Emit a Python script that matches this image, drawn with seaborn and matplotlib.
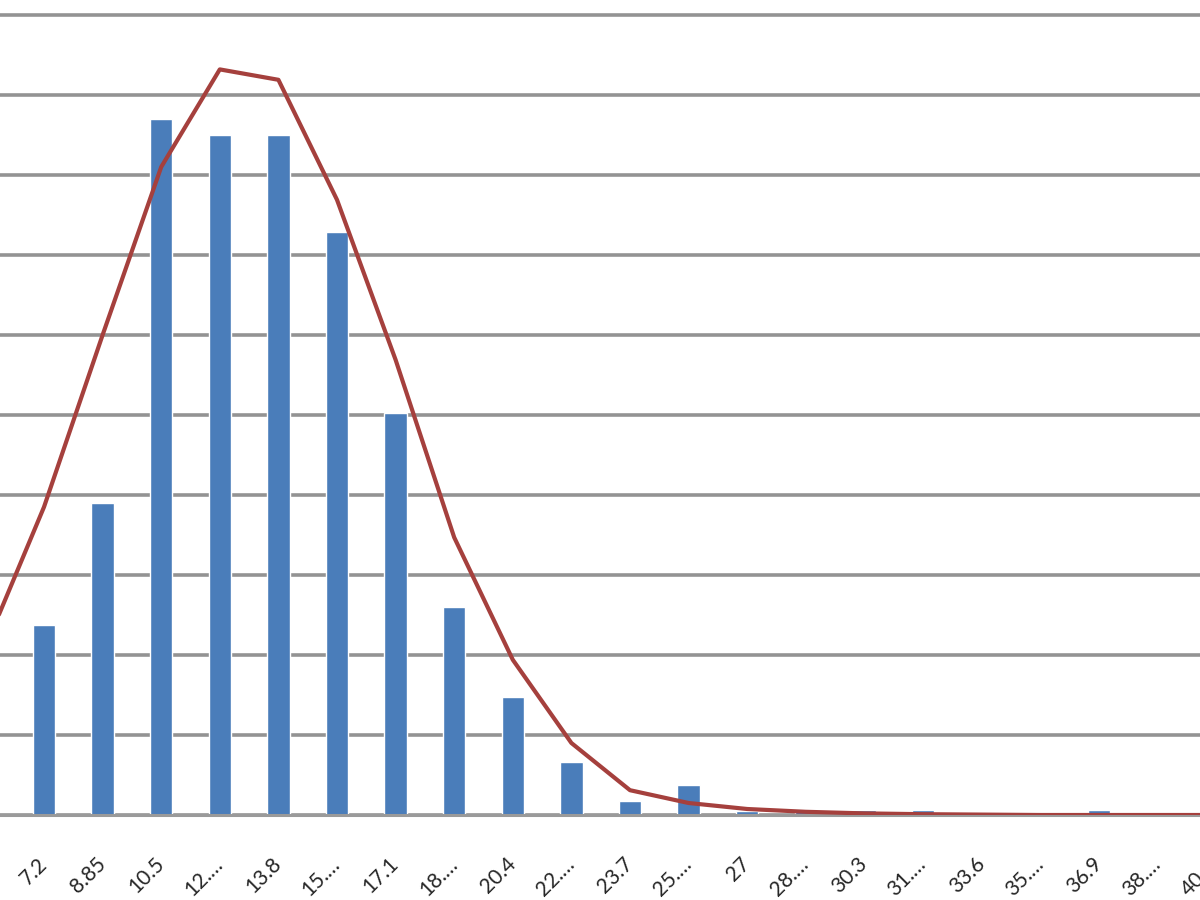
import numpy as np
import matplotlib
matplotlib.use('Agg')
import matplotlib.pyplot as plt
import seaborn as sns

# histogram bins (first one sits just off the left edge of the picture)
categories = ['5.55', '7.2', '8.85', '10.5', '12.…', '13.8', '15.…', '17.1', '18.…', '20.4',
              '22.…', '23.7', '25.…', '27', '28.…', '30.3', '31.…', '33.6', '35.…', '36.9',
              '38.…', '40.…']
# observed counts (bars)
counts = [9, 23.75, 39, 87, 85, 85, 72.9, 50.25, 26, 14.75,
          6.6, 1.75, 3.75, 0.5, 0.5, 0.6, 0.6, 0, 0, 0.6,
          0, 0]
# fitted normal curve
fitted = [21, 38.5, 60, 81, 93.2, 91.9, 76.9, 56.9, 34.7, 19.4,
          9, 3.1, 1.5, 0.75, 0.4, 0.2, 0.1, 0.05, 0, 0,
          0, 0]
y_ticks = list(range(0, 101, 10))

sns.set_style('white')
plt.rcParams['font.family'] = ['Lato', 'DejaVu Sans']

fig = plt.figure(figsize=(12, 9), dpi=100)
# the original screenshot is cropped, so the axes runs past the figure edges
ax = fig.add_axes([-43.9 / 1200, 85 / 900, 1289.2 / 1200, 800 / 900])

sns.barplot(x=categories, y=counts, color='#4A7DBA', width=0.38,
            saturation=1, ax=ax, zorder=2)
sns.pointplot(x=categories, y=fitted, color='#A5403D', markers='',
              linewidth=3, ax=ax, zorder=3)

ax.set_xlim(-0.5, len(categories) - 0.5)
ax.set_ylim(0, 100)
ax.set_yticks(y_ticks)
ax.set_yticklabels([])
ax.yaxis.grid(True, color='#939393', linewidth=2.6)
ax.set_axisbelow(True)
for gl in ax.get_ygridlines():
    gl.set_clip_on(False)

for s in ['top', 'right', 'left']:
    ax.spines[s].set_visible(False)
ax.spines['bottom'].set_color('#9a9a9a')
ax.spines['bottom'].set_linewidth(2.2)

ax.set_xticks(np.arange(-0.5, len(categories), 1), minor=True)
ax.tick_params(axis='x', which='minor', length=9, width=1.4, color='#8a8a8a', direction='out')
ax.tick_params(axis='x', which='major', length=0, pad=33, labelsize=15, labelcolor='#262626')
ax.tick_params(axis='y', length=0)
plt.setp(ax.get_xticklabels(), rotation=45, rotation_mode='anchor', ha='right', va='center')
# first bin's label lies outside the cropped picture
ax.get_xticklabels()[0].set_visible(False)
ax.set_xlabel('')
ax.set_ylabel('')

fig.savefig('out.png', dpi=100)
